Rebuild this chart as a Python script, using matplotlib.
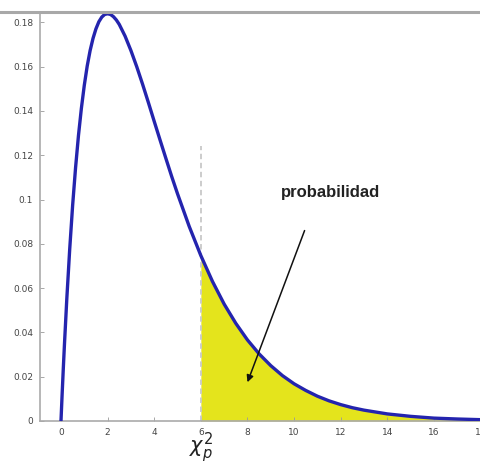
import matplotlib
matplotlib.use("Agg")
import matplotlib.pyplot as plt
from matplotlib.lines import Line2D

# Curva (densidad chi-cuadrado)
x_vals = [0, 0.05, 0.1, 0.15, 0.25, 0.375, 0.5, 0.625, 0.75, 0.875, 1,
          1.125, 1.25, 1.375, 1.5, 1.625, 1.75, 1.875, 2, 2.125, 2.25,
          2.375, 2.5, 2.75, 3, 3.25, 3.5, 3.75, 4, 4.25, 4.5, 4.75, 5, 5.5,
          6, 6.5, 7, 7.5, 8, 8.5, 9, 9.5, 10, 10.5, 11, 11.5, 12, 12.5, 13,
          14, 15, 16, 17, 18, 19, 20]
y_vals = [0, 0.0122, 0.0238, 0.0348, 0.0552, 0.0777, 0.0974, 0.1143, 0.1289,
          0.1412, 0.1516, 0.1603, 0.1673, 0.1728, 0.1771, 0.1803, 0.1824,
          0.1836, 0.1839, 0.1836, 0.1826, 0.1811, 0.1791, 0.1738, 0.1673,
          0.1600, 0.1521, 0.1438, 0.1353, 0.1269, 0.1186, 0.1104, 0.1026,
          0.0879, 0.0747, 0.0630, 0.0528, 0.0441, 0.0366, 0.0303, 0.0250,
          0.0205, 0.0168, 0.0138, 0.0112, 0.0091, 0.0074, 0.0060, 0.0049,
          0.0032, 0.0021, 0.0013, 0.0009, 0.0006, 0.0004, 0.0002]

x_p = 6  # valor critico
dash_top = 0.124
x_ticks = [0, 2, 4, 6, 8, 10, 12, 14, 16, 18]
y_ticks = [0, 0.02, 0.04, 0.06, 0.08, 0.1, 0.12, 0.14, 0.16, 0.18]
y_tick_labels = ["0", "0.02", "0.04", "0.06", "0.08", "0.1", "0.12", "0.14",
                 "0.16", "0.18"]
label_text = "probabilidad"
text_pos = (11.55, 0.103)
arrow_tail = (10.45, 0.086)
arrow_head = (8.0, 0.0175)

fig = plt.figure(figsize=(4.8, 4.67), dpi=100)
ax = fig.add_axes([40 / 480, 46 / 467, 1.015, 409 / 467])

# Area sombreada
xs_fill = [x for x in x_vals if x >= x_p]
ys_fill = [y for x, y in zip(x_vals, y_vals) if x >= x_p]
ax.fill_between(xs_fill, ys_fill, 0, color="#e4e41c", lw=0, zorder=1)

ax.plot([x_p, x_p], [0, dash_top], color="#c8c8c8", lw=1.3,
        ls=(0, (3, 2)), zorder=2)
ax.plot(x_vals, y_vals, color="#2424ae", lw=2.4, zorder=3,
        solid_capstyle="round", solid_joinstyle="round")

ax.set_xlim(-0.9, 20)
ax.set_ylim(0, 0.1847)
ax.set_xticks(x_ticks)
ax.set_xticklabels([str(t) for t in x_ticks])
ax.set_yticks(y_ticks)
ax.set_yticklabels(y_tick_labels)
ax.tick_params(direction="in", length=3, width=0.6, colors="#999999",
               labelcolor="#444444", labelsize=6.5, pad=5)

for s in ["top", "right"]:
    ax.spines[s].set_visible(False)
for s in ["left", "bottom"]:
    ax.spines[s].set_color("#aaaaaa")
    ax.spines[s].set_linewidth(1.2)

ax.text(text_pos[0], text_pos[1], label_text, ha="center", va="center",
        fontsize=12, fontweight="bold", family="Liberation Sans",
        color="#222222")
ax.annotate("", xy=arrow_head, xytext=arrow_tail,
            arrowprops=dict(arrowstyle="-|>", color="#111111", lw=1.1,
                            mutation_scale=10, shrinkA=0, shrinkB=0))

ax.text(x_p, -0.0045, r"$\chi^2_p$", ha="center", va="top", fontsize=15,
        color="#222222")

# Linea gris superior de la captura
fig.add_artist(Line2D([0, 1], [1 - 12 / 467, 1 - 12 / 467],
                      transform=fig.transFigure, color="#a8a8a8", lw=2.2))

fig.savefig("out.png", dpi=100)
